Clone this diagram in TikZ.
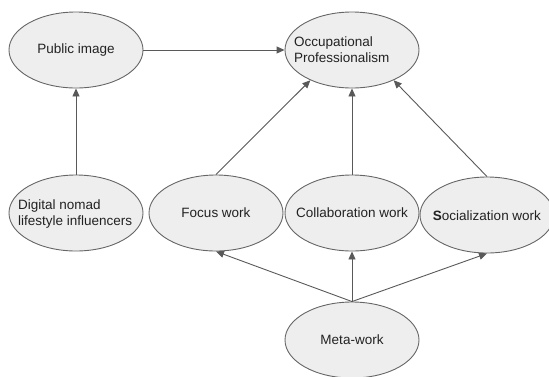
\documentclass[tikz,border=0pt]{standalone}
\usepackage{fontspec}
\setmainfont{Liberation Sans}
\usetikzlibrary{shapes.geometric,arrows.meta}
\definecolor{nodefill}{HTML}{EEEEEE}
\definecolor{nodeline}{HTML}{666666}
\definecolor{edgecol}{HTML}{595959}
\definecolor{txt}{HTML}{222222}
\begin{document}
\begin{tikzpicture}[x=1pt,y=-1pt,
  oval/.style={ellipse, draw=nodeline, fill=nodefill, line width=0.9pt,
    minimum width=134pt, minimum height=76pt, inner sep=0pt},
  lbl/.style={font=\fontsize{13.5}{16}\selectfont, text=txt, inner sep=0pt},
  link/.style={draw=edgecol, line width=0.9pt, -{Triangle[length=8pt,width=7pt]}}]
\useasboundingbox (0,0) rectangle (549,376);
\node[oval] (pub) at (76,50) {};
\node[lbl] (pubt) at (pub.center) {Public image};
\node[oval] (occ) at (352,50) {};
\node[lbl, anchor=west, align=left] (occt) at (294,50) {Occupational\\Professionalism};
\node[oval] (dig) at (76,213) {};
\node[lbl, anchor=west, align=left] (digt) at (18,214) {Digital nomad\\lifestyle influencers};
\node[oval] (foc) at (216,213) {};
\node[lbl] (foct) at (foc.center) {Focus work};
\node[oval] (col) at (352,213) {};
\node[lbl] (colt) at (col.center) {Collaboration work};
\node[oval] (soc) at (487,215) {};
\node[lbl] (soct) at (487,216) {\textbf{S}ocialization work};
\node[oval] (meta) at (352,340) {};
\node[lbl] (metat) at (meta.center) {Meta-work};
\draw[link] (pub.east) -- (occ.west);
\draw[link] (dig.north) -- (pub.south);
\draw[link] (foc.north) -- (occ.216);
\draw[link] (col.north) -- (occ.south);
\draw[link] (soc.north) -- (occ.324);
\draw[link] (meta.north) -- (foc.south);
\draw[link] (meta.north) -- (col.south);
\draw[link] (meta.north) -- (soc.south);
\end{tikzpicture}
\end{document}
